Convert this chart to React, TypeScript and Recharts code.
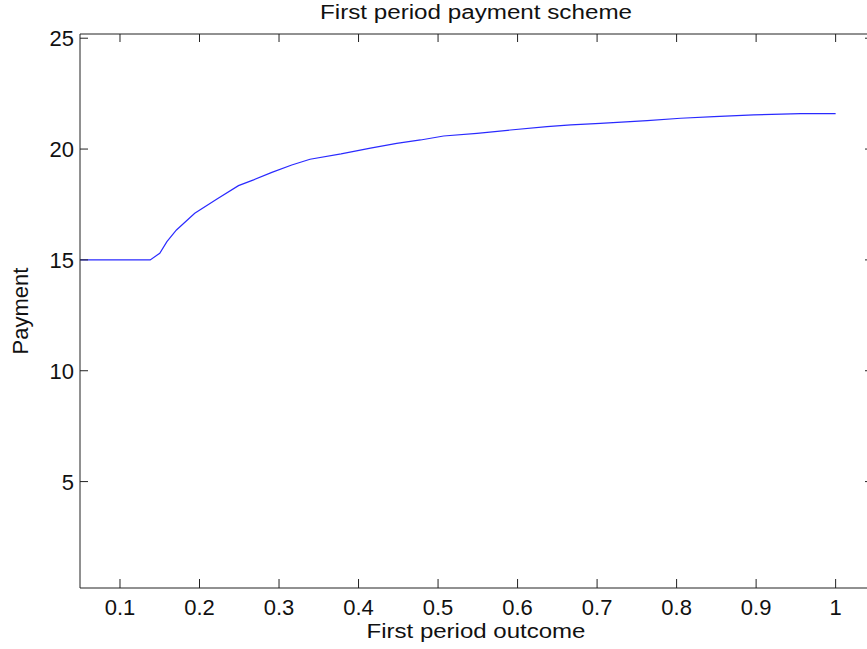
import React from "react";
import { LineChart, Line, XAxis, YAxis } from "recharts";

const outcome = [0.05, 0.1, 0.138, 0.15, 0.159, 0.171, 0.194, 0.222, 0.249, 0.268, 0.291, 0.316, 0.339, 0.378, 0.415, 0.448, 0.478, 0.507, 0.549, 0.591, 0.637, 0.667, 0.704, 0.763, 0.805, 0.847, 0.897, 0.956, 1.0];
const payment = [15, 15, 15, 15.3, 15.82, 16.35, 17.1, 17.75, 18.35, 18.61, 18.95, 19.28, 19.54, 19.78, 20.04, 20.26, 20.41, 20.59, 20.71, 20.86, 21.01, 21.09, 21.16, 21.28, 21.39, 21.46, 21.54, 21.6, 21.6];
const xTicks = [0.1, 0.2, 0.3, 0.4, 0.5, 0.6, 0.7, 0.8, 0.9, 1];
const yTicks = [5, 10, 15, 20, 25];
const title = "First period payment scheme";
const xLabel = "First period outcome";
const yLabel = "Payment";

const data = outcome.map((o, i) => ({ outcome: o, payment: payment[i] }));

const FONT = "'Liberation Sans', Arial, Helvetica, sans-serif";
const AXIS = "#222";
const TXT = "#111";

const fmtX = (v: number) => (v === 1 ? "1" : String(Math.round(v * 10) / 10));

const BottomTick = (p: any) => (
  <g>
    <line x1={p.x} x2={p.x} y1={p.y} y2={p.y - 9} stroke={AXIS} strokeWidth={1} />
    <text x={p.x} y={p.y + 27} textAnchor="middle" fontSize={22} fontFamily={FONT} fill={TXT}>
      {fmtX(p.payload.value)}
    </text>
  </g>
);
const TopTick = (p: any) => (
  <line x1={p.x} x2={p.x} y1={p.y} y2={p.y + 8} stroke={AXIS} strokeWidth={1} />
);
const LeftTick = (p: any) => (
  <g>
    <line x1={p.x} x2={p.x + 8} y1={p.y} y2={p.y} stroke={AXIS} strokeWidth={1} />
    <text x={p.x - 6} y={p.y + 8} textAnchor="end" fontSize={22} fontFamily={FONT} fill={TXT}>
      {p.payload.value}
    </text>
  </g>
);
const RightTick = (p: any) => (
  <line x1={p.x - 8} x2={p.x} y1={p.y} y2={p.y} stroke={AXIS} strokeWidth={1} />
);

const xDomain = [0.0497, 1.047];
const yDomain = [0.2, 25.19];

export default function App() {
  return (
    <div style={{ position: "absolute", left: 0, top: 0, width: 867, height: 649, overflow: "hidden", background: "#fff" }}>
      <LineChart width={880} height={649} data={data} margin={{ top: 33, right: 0, bottom: 0, left: 0 }}>
        <XAxis
          xAxisId="b"
          dataKey="outcome"
          type="number"
          domain={xDomain}
          allowDataOverflow
          ticks={xTicks}
          interval={0}
          height={61}
          tickSize={0}
          tickMargin={0}
          tickLine={false}
          axisLine={{ stroke: AXIS, strokeWidth: 1 }}
          tick={<BottomTick />}
        />
        <XAxis
          xAxisId="t"
          dataKey="outcome"
          type="number"
          orientation="top"
          domain={xDomain}
          allowDataOverflow
          ticks={xTicks}
          interval={0}
          height={1}
          tickSize={0}
          tickMargin={0}
          tickLine={false}
          axisLine={{ stroke: AXIS, strokeWidth: 1 }}
          tick={<TopTick />}
        />
        <YAxis
          yAxisId="l"
          type="number"
          domain={yDomain}
          allowDataOverflow
          ticks={yTicks}
          interval={0}
          width={80}
          tickSize={0}
          tickMargin={0}
          tickLine={false}
          axisLine={{ stroke: AXIS, strokeWidth: 1 }}
          tick={<LeftTick />}
        />
        <YAxis
          yAxisId="r"
          type="number"
          orientation="right"
          domain={yDomain}
          allowDataOverflow
          ticks={yTicks}
          interval={0}
          width={7}
          tickSize={0}
          tickMargin={0}
          tickLine={false}
          axisLine={{ stroke: AXIS, strokeWidth: 1 }}
          tick={<RightTick />}
        />
        <Line
          xAxisId="b"
          yAxisId="l"
          dataKey="payment"
          type="linear"
          stroke="#2a2aff"
          strokeWidth={1.2}
          dot={false}
          activeDot={false}
          isAnimationActive={false}
        />
        <text x={476} y={19} textAnchor="middle" fontSize={20} textLength={312} lengthAdjust="spacingAndGlyphs" fontFamily={FONT} fill={TXT}>
          {title}
        </text>
        <text x={476} y={638} textAnchor="middle" fontSize={21} textLength={219} lengthAdjust="spacingAndGlyphs" fontFamily={FONT} fill={TXT}>
          {xLabel}
        </text>
        <text x={28} y={311} transform="rotate(-90, 28, 311)" textAnchor="middle" fontSize={22} fontFamily={FONT} fill={TXT}>
          {yLabel}
        </text>
      </LineChart>
    </div>
  );
}
